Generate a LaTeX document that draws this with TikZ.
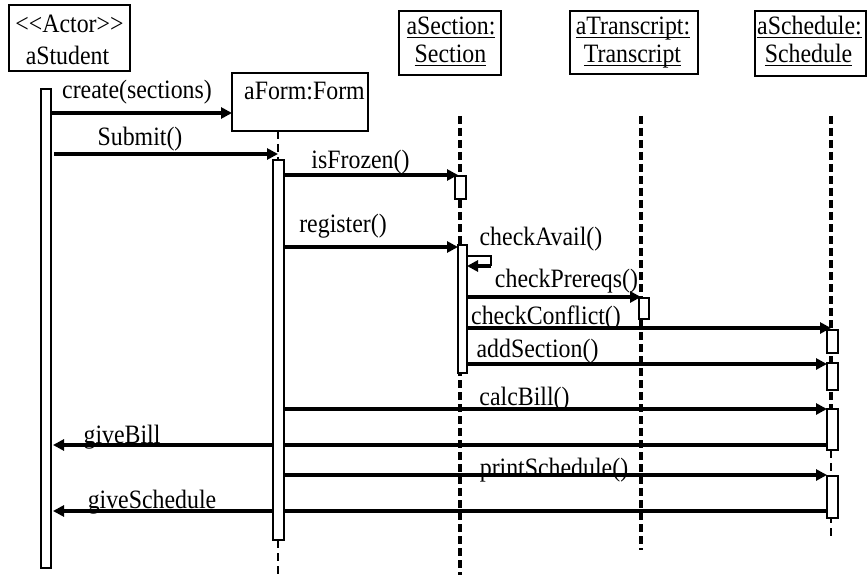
\documentclass[tikz,border=0pt]{standalone}
\usepackage{fontspec}
\setmainfont{Liberation Serif}[FakeStretch=0.9]
\usetikzlibrary{arrows.meta}
% underline with a fixed rule below the baseline
\newcommand{\ulined}[1]{\setbox0=\hbox{#1}\rlap{\rule[-3pt]{\wd0}{1.3pt}}\box0}
\begin{document}
\begin{tikzpicture}[x=1pt,y=-1pt,
  every node/.style={font=\fontsize{26.5}{30}\selectfont, inner sep=0pt, outer sep=0pt},
  objbox/.style={draw, line width=2pt, fill=white, rectangle},
  txt/.style={anchor=base},
  bar/.style={rectangle, anchor=north west},
  msg/.style={line width=3.6pt, -{Triangle[length=11pt,width=11pt]}},
  life/.style={line width=3.5pt, dash pattern=on 8pt off 4pt},
  thinlife/.style={line width=2pt, dash pattern=on 8pt off 5pt},
  selfline/.style={line width=2.2pt},
]
\useasboundingbox (0,0) rectangle (868,575);
\coordinate (bottom) at (0,575);

% object boxes
\node[objbox, minimum width=121pt, minimum height=66pt] (student) at (69.5,38) {};
\node[txt] (studentT1) at (69.5,33) {<\kern0pt<Actor>\kern0pt>};
\node[txt] (studentT2) at (67.5,65) {aStudent};

\node[objbox, minimum width=136pt, minimum height=58pt] (form) at (300,102) {};
\node[txt] (formT) at (304.5,100) {aForm:Form};

\node[objbox, minimum width=102pt, minimum height=64pt] (section) at (450,43) {};
\node[txt] (sectionT1) at (451,35) {\ulined{aSection:}};
\node[txt] (sectionT2) at (450.5,63) {\ulined{Section}};

\node[objbox, minimum width=128pt, minimum height=63pt] (transcript) at (634,42.5) {};
\node[txt] (transcriptT1) at (633,35) {\ulined{aTranscript:}};
\node[txt] (transcriptT2) at (632.5,63) {\ulined{Transcript}};

\node[objbox, minimum width=111pt, minimum height=65pt] (schedule) at (810.5,43.5) {};
\node[txt] (scheduleT1) at (809.5,35) {\ulined{aSchedule:}};
\node[txt] (scheduleT2) at (808.5,63) {\ulined{Schedule}};

% lifeline ends
\coordinate (seclife) at (460,116);
\coordinate (tlife) at (641,116);
\coordinate (tlifeEnd) at (641,550);
\coordinate (schlife) at (831,116);
\coordinate (schlifeEnd) at (831,540);

% activation bar frames (outlined later, over the message lines)
\path
  node[bar, minimum width=10pt,   minimum height=479pt] (sbar)    at (41,89) {}
  node[bar, minimum width=11pt,   minimum height=380pt] (fbar)    at (272.5,160) {}
  node[bar, minimum width=11pt,   minimum height=23pt]  (secbar1) at (455,176) {}
  node[bar, minimum width=9pt,    minimum height=128pt] (secbar2) at (458,245) {}
  node[bar, minimum width=10pt,   minimum height=21pt]  (tbar)    at (639,298) {}
  node[bar, minimum width=10.5pt, minimum height=23pt]  (schbar1) at (827,330) {}
  node[bar, minimum width=10.5pt, minimum height=27pt]  (schbar2) at (827,363) {}
  node[bar, minimum width=10.5pt, minimum height=41pt]  (schbar3) at (827,409) {}
  node[bar, minimum width=10.5pt, minimum height=42pt]  (schbar4) at (827,476) {};

% lifelines
\draw[thinlife] (form.south -| fbar.north) -- (fbar.north);
\draw[thinlife] (fbar.south) -- (fbar.south |- bottom);
\draw[life] (seclife) -- (seclife |- bottom);
\draw[life] (tlife) -- (tlifeEnd);
\draw[life] (schlife) -- (schlife |- schbar3.south);
\draw[thinlife] (schlife |- schbar3.south) -- (schlifeEnd);

% message rows
\coordinate (yCreate)   at (0,113);
\coordinate (ySubmit)   at (0,154);
\coordinate (yFrozen)   at (0,175);
\coordinate (yRegister) at (0,247);
\coordinate (yAvail)    at (0,256);
\coordinate (selfturn)  at (491,266);
\coordinate (yPrereq)   at (0,297);
\coordinate (yConflict) at (0,328);
\coordinate (yAdd)      at (0,364);
\coordinate (yCalc)     at (0,409);
\coordinate (yBill)     at (0,445);
\coordinate (yPrint)    at (0,475);
\coordinate (ySched)    at (0,511);

% messages
\draw[msg] (sbar.east |- yCreate) -- (form.west |- yCreate);
\draw[msg] ([xshift=3pt]sbar.east |- ySubmit) -- (fbar.north |- ySubmit);
\draw[msg] (fbar.east |- yFrozen) -- ([xshift=3pt]secbar1.west |- yFrozen);
\draw[msg] (fbar.center |- yRegister) -- (secbar2.west |- yRegister);
\draw[selfline] (secbar2.east |- yAvail) -| (selfturn);
\draw[msg] (selfturn) -- (secbar2.east |- selfturn);
\draw[msg] (secbar2.east |- yPrereq) -- (tlife |- yPrereq);
\draw[msg] (secbar2.east |- yConflict) -- (schlife |- yConflict);
\draw[msg] (secbar2.east |- yAdd) -- (schbar2.west |- yAdd);
\draw[msg] (fbar.east |- yCalc) -- (schbar3.west |- yCalc);
\draw[msg] ([xshift=3pt]schbar3.west |- yBill) -- ([xshift=2pt]sbar.east |- yBill);
\draw[msg] (fbar.east |- yPrint) -- (schbar4.west |- yPrint);
\draw[msg] ([xshift=3pt]schbar4.west |- ySched) -- ([xshift=2pt]sbar.east |- ySched);

% activation bars drawn over the message lines
\foreach \b in {sbar,fbar,secbar1,secbar2,tbar,schbar1,schbar2,schbar3,schbar4}
  \draw[line width=2pt, fill=white] (\b.north west) rectangle (\b.south east);

% message labels
\node[txt] (lCreate)   at (137,99)    {create(sections)};
\node[txt] (lSubmit)   at (140,146)   {Submit()};
\node[txt] (lFrozen)   at (360.5,169) {isFrozen()};
\node[txt] (lRegister) at (343,233)   {register()};
\node[txt] (lAvail)    at (541,245)   {checkAvail()};
\node[txt] (lPrereq)   at (566.5,287) {checkPrereqs()};
\node[txt] (lConflict) at (546,324)   {checkConflict()};
\node[txt] (lAdd)      at (537.5,357) {addSection()};
\node[txt] (lCalc)     at (524.5,405) {calcBill()};
\node[txt] (lBill)     at (122,443)   {giveBill};
\node[txt] (lPrint)    at (554,476)   {printSchedule()};
\node[txt] (lSched)    at (152,508)   {giveSchedule};
\end{tikzpicture}
\end{document}
